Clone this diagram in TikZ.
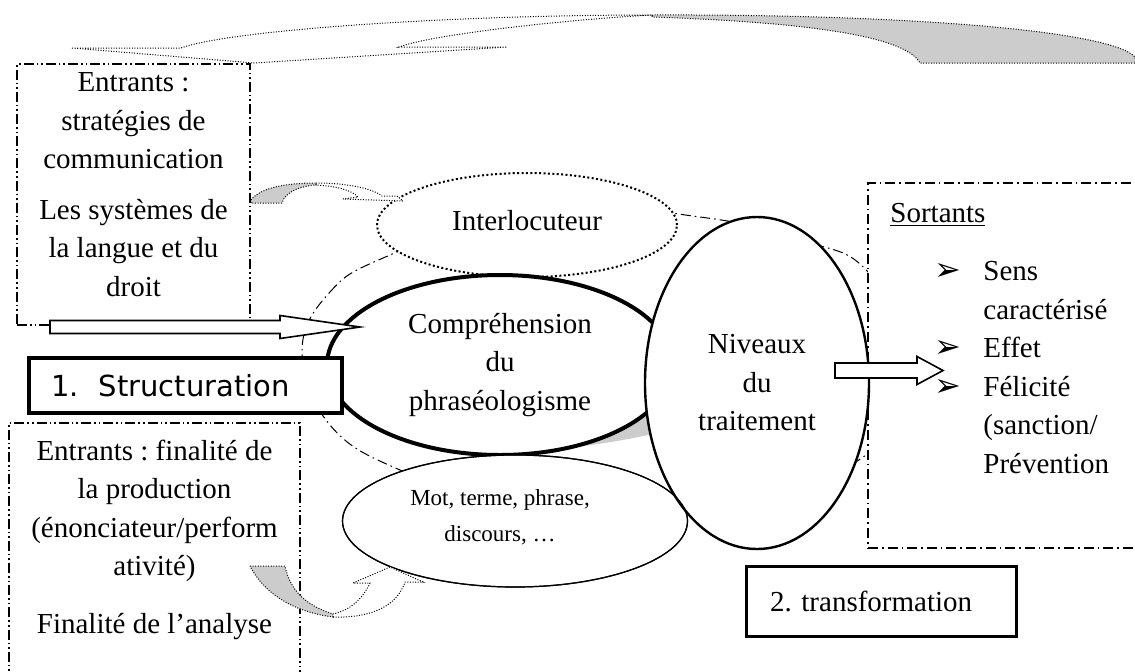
\documentclass[tikz,border=0pt]{standalone}
\usepackage{fontspec}
\setmainfont{Liberation Serif}
\newfontfamily\numfont{DejaVu Sans}
\usetikzlibrary{shapes.geometric,positioning}
\tikzset{ell/.style={ellipse, draw, fill=white, inner sep=0pt, align=center}}
\tikzset{inbox/.style={draw, fill=white, line width=0.8pt, dash pattern=on 5pt off 1.5pt on 0.8pt off 1.5pt on 0.8pt off 1.5pt}}
\tikzset{outbox/.style={draw, fill=white, line width=0.8pt, dash pattern=on 5pt off 2pt on 0.8pt off 2pt}}
\tikzset{stepbox/.style={draw, fill=white, align=left, inner ysep=0pt, inner xsep=11pt}}
\tikzset{txt/.style={inner sep=0pt, align=center}}
\tikzset{ring/.style={line width=0.5pt, dash pattern=on 5pt off 2pt on 0.8pt off 2pt}}
\tikzset{fat/.style={draw, fill=white, line width=0.8pt}}
\tikzset{bent/.style={draw, fill=white, line width=0.5pt, dash pattern=on 0.5pt off 0.8pt}}
\tikzset{bentback/.style={bent, fill=black!20}}
\newcommand\fatarrow[5]{
    \draw[fat] ([shift={(0,-#4)}]#1) -- ++(#2,0) -- ++(0,#4-#5) -- ++(#3,#5) -- ++(-#3,#5) -- ++(0,#4-#5) -- ++(-#2,0) -- cycle;
}
\newcommand\pointer{\llap{{\numfont\fontsize{16}{12}\selectfont ➢}\hspace{11pt}}}
\frenchspacing

\begin{document}
\begin{tikzpicture}[x=0.5pt, y=-0.5pt, font=\fontsize{14.5}{19.25}\selectfont]
    \useasboundingbox (0,0) rectangle (1135,671);
    \clip (0,0) rectangle (1135,671);

    \draw[ring] plot[smooth cycle, tension=0.7] coordinates {(302,352) (330,292) (390,255) (530,205) (700,217) (800,240) (868,272) (905,360) (866,455) (700,510) (500,500) (400,470) (330,425)};

    \node[ell, line width=1pt, dash pattern=on 1pt off 1.2pt, minimum width=150pt, minimum height=52pt] (inter) at (527,225) {\raisebox{5pt}{Interlocuteur}};
    \fill[black!20] (548,449) -- (600,432) -- (640,410) -- (662,395) -- (662,432) .. controls (620,441) .. (548,451) -- cycle;
    \node[ell, line width=2pt, minimum width=173pt, minimum height=90pt] (compr) at (500,365) {Compréhension\\du\\phraséologisme};
    \node[outbox, minimum width=141pt, minimum height=182.5pt] (sort) at (1009,365.5) {};
    \node[ell, line width=0.6pt, minimum width=172.5pt, minimum height=66pt, label={[txt, xshift=-7.5pt, yshift=2pt, font=\fontsize{11.5}{18}\selectfont]center:{Mot, terme, phrase,\\discours, …}}] (mot) at (515,521) {};
    \node[ell, line width=1.2pt, minimum width=112pt, minimum height=166pt] (niv) at (757,383) {Niveaux\\du\\traitement};
    \draw[line width=0.6pt] (mot.center) ellipse [x radius=172.5, y radius=66];

    \node[stepbox, line width=2.4pt, text width=134.5pt, minimum height=27.5pt, font=\numfont\fontsize{14.5}{18}\selectfont] (struct) at (185.5,385.5) {1.\hspace{10pt}Structuration};
    \node[inbox, minimum width=116.5pt, minimum height=130.5pt] (entA) at (133.5,194.5) {};
    \node[txt, below=4.5pt of entA.north] (entAtxt) {Entrants :\\stratégies de\\communication\\[6pt]Les systèmes de\\la langue et du\\droit};
    \node[inbox, minimum width=145.5pt, minimum height=138.5pt] (entB) at (154.5,561.5) {};
    \node[txt, below=8.5pt of entB.north] (entBtxt) {Entrants : finalité de\\la production\\(énonciateur/perform\\ativité)\\[9.5pt]Finalité de l’analyse};

    \node[txt, anchor=north west] (sorttitle) at (890,203) {\underline{Sortants}};
    \node[txt, align=left, anchor=north west] (sortlist) at (983,261) {\pointer Sens\\caractérisé\\\pointer Effet\\\pointer Félicité\\(sanction/\\Prévention};
    \node[stepbox, line width=1.5pt, text width=111pt, inner xsep=12pt, minimum height=35pt] (trans) at (881,601) {2. transformation};

    \coordinate (arrA) at (50,327);
    \coordinate (arrB) at (835,370.5);
    \fatarrow{arrA}{230}{80}{6.5}{11.5}
    \fatarrow{arrB}{82}{26}{7.5}{14}

    \draw[bentback] (652,15) .. controls (900,14) and (1110,30) .. (1135,57) -- (1135,63) -- (920,63) .. controls (905,35) and (800,22) .. (652,17) -- cycle;
    \draw[bent] (72,48) -- (181,48) .. controls (230,30) and (450,15) .. (652,15) .. controls (560,20) and (430,35) .. (399,47) -- (507,47) -- (254,63) -- cycle;

    \draw[bentback] (251,200) .. controls (260,188) and (285,183) .. (316,183) -- (316,185) .. controls (300,186) and (285,192) .. (282,203) -- (251,203) -- cycle;
    \draw[bent] (316,183) .. controls (345,183) and (372,188) .. (382,196) -- (397,196) -- (403,201) -- (343,199) -- (358,197) .. controls (352,190) and (335,186) .. (316,185) -- cycle;

    \draw[bentback] (250,566) -- (285,566) .. controls (290,590) and (305,605) .. (333,614) -- (333,617) .. controls (295,612) and (265,595) .. (250,566) -- cycle;
    \draw[bent] (333,617) .. controls (360,618) and (395,612) .. (405,582) -- (423,582) -- (390,567) -- (353,583) -- (370,583) .. controls (362,600) and (350,610) .. (333,614) -- cycle;
\end{tikzpicture}
\end{document}
